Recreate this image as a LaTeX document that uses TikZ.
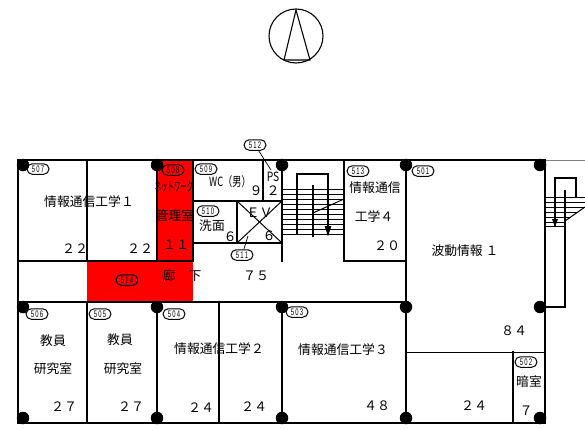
\documentclass[tikz,border=0pt]{standalone}
\usepackage{fontspec}
\usepackage{graphicx}
\setmainfont{Noto Sans CJK JP}
\newfontfamily\numfont{Liberation Sans}
\usetikzlibrary{shapes.misc}
\newcommand{\cnd}[2][0.62]{\scalebox{#1}[1]{#2}}
\tikzset{
  wall/.style={line width=1.3pt,line cap=rect},
  thin wall/.style={line width=1pt},
  tread/.style={line width=1pt},
  room/.style={inner sep=0pt,font=\fontsize{12.8}{12.8}\selectfont},
  num/.style={inner sep=0pt,font=\fontsize{13}{13}\selectfont},
  tag/.style={draw,line width=1pt,rounded rectangle,minimum width=22pt,minimum height=10.5pt,inner sep=0pt,fill=none,font=\numfont\fontsize{9.5}{9.5}\selectfont},
  pillar/.style={circle,fill=black,minimum size=12.5pt,inner sep=0pt},
}
\newcommand{\tagtext}[3]{\cnd[0.62]{#1\kern2pt#2\kern2pt#3}}
\begin{document}
\begin{tikzpicture}[x=1pt,y=-1pt]
\useasboundingbox (0,0) rectangle (585,429);
% red areas
\fill[red] (157,160) rectangle (193,261);
\fill[red] (87,261) rectangle (193,302);
% compass
\coordinate (capex) at (296,10);
\coordinate (cl) at (284,60);
\coordinate (cr) at (310,60);
\draw[line width=1.1pt] (296,36) circle (27);
\draw[line width=1.1pt] (capex) -- (cl) -- (cr) -- cycle;
% outer walls
\draw[wall] (18,160) -- (545,160);
\draw[thin wall,gray] (545,160) -- (585,160);
\draw[wall] (18,160) -- (18,423) -- (545,423) -- (545,160);
% upper rooms
\draw[wall] (87,160) -- (87,261);
\draw[wall] (157,160) -- (157,261);
\draw[wall] (193,160) -- (193,261);
\draw[wall] (18,261) -- (193,261);
\draw[wall] (282,160) -- (282,261);
\draw[wall] (263,160) -- (263,201);
\draw[wall] (193,201) -- (282,201);
\draw[wall] (193,243) -- (282,243);
\draw[wall] (237,201) -- (237,243);
\draw[thin wall] (237,201) -- (282,243);
\draw[thin wall] (282,201) -- (237,243);
\draw[wall] (344,160) -- (344,261) -- (406,261);
\draw[wall] (406,160) -- (406,423);
% corridor lower wall and lower rooms
\draw[wall] (18,302) -- (406,302);
\draw[wall] (87,302) -- (87,423);
\draw[wall] (157,302) -- (157,423);
\draw[wall] (219,302) -- (219,423);
\draw[wall] (282,302) -- (282,423);
\draw[thin wall] (406,352) -- (545,352);
\draw[wall] (513,352) -- (513,423);
% main stairs
\foreach \yy in {189,194,199,204,209,214,219,224,229,234}
  \draw[tread] (282,\yy) -- (344,\yy);
\draw[wall] (297,234) -- (297,174) -- (328,174) -- (328,234);
\draw[wall] (313,186) -- (313,236);
\draw[thin wall] (313,213) -- (344,199);
\fill (324.5,226) -- (331.5,226) -- (328,236) -- cycle;
% outside stairs
\draw[wall] (555,197) -- (555,178) -- (576,178) -- (576,197);
\foreach \yy in {197,202,207} \draw[tread] (545,\yy) -- (585,\yy);
\draw[tread] (545,212) -- (578,212);
\draw[tread] (545,217) -- (571,217);
\draw[tread] (545,222) -- (565,222);
\draw[tread] (545,226) -- (565,226);
\draw[thin wall] (565,221) -- (585,207);
\draw[wall] (555,197) -- (555,226);
\draw[wall] (565,191) -- (565,307) -- (545,307);
\fill (552,219) -- (558,219) -- (555,227) -- cycle;
% pillars
\foreach \nm/\px/\py in {a/23/165,b/157/165,c/282/165,d/406/165,e/540/165,f/23/307,g/157/307,h/282/307,i/406/307,j/540/307,k/23/418,l/157/418,m/282/418,n/406/418,o/540/418}
  \node[pillar] (p\nm) at (\px,\py) {};
% room tags
\node[tag] (t507) at (38,169) {\tagtext 507};
\node[tag] (t508) at (173,170) {\tagtext 508};
\node[tag] (t509) at (206,169) {\tagtext 509};
\node[tag] (t510) at (208,211) {\tagtext 510};
\node[tag] (t511) at (242,255) {\tagtext 511};
\node[tag] (t512) at (255,145) {\tagtext 512};
\node[tag] (t513) at (358,171) {\tagtext 513};
\node[tag] (t501) at (423,171) {\tagtext 501};
\node[tag] (t514) at (127,280) {\tagtext 514};
\node[tag] (t506) at (37,314) {\tagtext 506};
\node[tag] (t505) at (100,314) {\tagtext 505};
\node[tag] (t504) at (174,314) {\tagtext 504};
\node[tag] (t503) at (297,312) {\tagtext 503};
\node[tag] (t502) at (526,362) {\tagtext 502};
% leaders
\coordinate (l512) at (271,170);
\coordinate (l511) at (248,236);
\draw[line width=0.7pt] (t512) -- (l512);
\draw[line width=0.7pt] (t511) -- (l511);
% room names
\node[room] (r1) at (89,202) {情報通信工学１};
\node[num] (n1) at (75,249) {２２};
\node[num] (n2) at (140,249) {２２};
\node[room] (r2) at (174,187) {\cnd[0.5]{ネットワーク}};
\node[room] (r3) at (175,216) {管理室};
\node[num] (n3) at (176,245) {１１};
\node[room] (r4) at (169,276) {廊};
\node[room] (r5) at (195,276) {下};
\node[num] (n4) at (256,276) {７５};
\node[room] (r6) at (230,182) {\cnd[0.72]{WC（男）}};
\node[num] (n5) at (256,191) {９};
\node[room] (r7) at (273,177) {\cnd[0.8]{PS}};
\node[num] (n6) at (273,191) {２};
\node[room] (r8) at (212,226) {洗面};
\node[num] (n7) at (230,237) {６};
\node[num] (r9) at (253,213) {Ｅ};
\node[num] (r10) at (266,213) {Ｖ};
\node[num] (n8) at (269,236) {６};
\node[room] (r11) at (375,188) {情報通信};
\node[room] (r12) at (374,217) {工学４};
\node[num] (n9) at (387,246) {２０};
\node[room] (r13) at (465,251) {波動情報 １};
\node[num] (n10) at (514,331) {８４};
\node[num] (n11) at (474,406) {２４};
\node[room] (r14) at (529,382) {暗室};
\node[num] (n12) at (526,411) {７};
\node[room] (r15) at (53,341) {教員};
\node[room] (r16) at (53,369) {研究室};
\node[num] (n13) at (64,407) {２７};
\node[room] (r17) at (120,340) {教員};
\node[room] (r18) at (123,369) {研究室};
\node[num] (n14) at (131,407) {２７};
\node[room] (r19) at (219,349) {情報通信工学２};
\node[num] (n15) at (201,408) {２４};
\node[num] (n16) at (254,407) {２４};
\node[room] (r20) at (343,350) {情報通信工学３};
\node[num] (n17) at (377,406) {４８};
\end{tikzpicture}
\end{document}
